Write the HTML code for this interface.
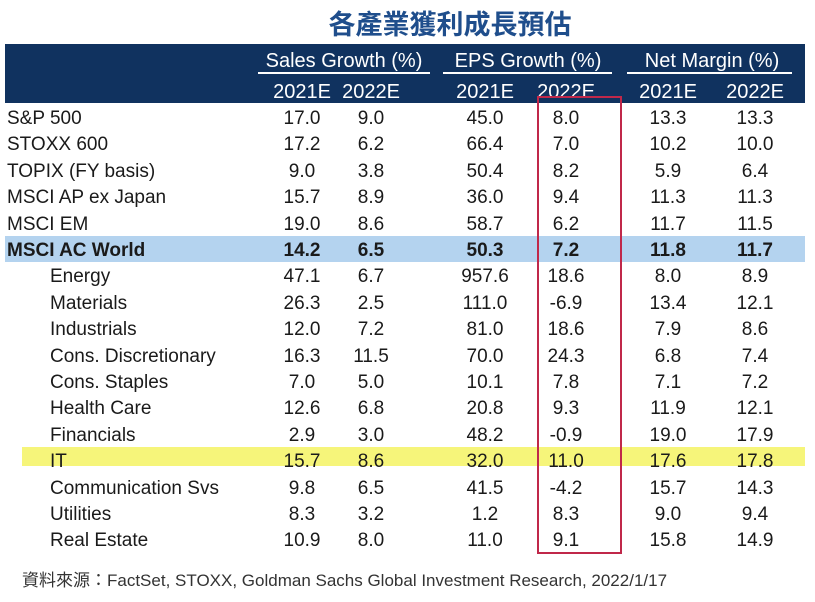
<!DOCTYPE html>
<html><head><meta charset="utf-8"><style>
body{margin:0;width:815px;height:602px;background:#fff;position:relative;overflow:hidden;font-family:"Liberation Sans","Noto Sans CJK TC",sans-serif}
.a{position:absolute;white-space:nowrap}
.c{transform:translateX(-50%)}
.h{color:#fff;font-size:20px}
.d{font-size:19px;color:#1a1a1a}
</style></head><body>
<div class="a" style="left:0;width:900px;text-align:center;top:3px;font-size:27px;font-weight:bold;color:#1f4e8c;font-family:'Liberation Sans','Noto Sans CJK TC',sans-serif">各產業獲利成長預估</div>
<div class="a" style="left:5px;top:44px;width:800px;height:59px;background:#10325f"></div>
<div class="a" style="left:5px;top:236px;width:800px;height:26px;background:#b4d3ef"></div>
<div class="a" style="left:22px;top:447px;width:783px;height:19px;background:#f6f57a"></div>
<div class="a" style="left:258px;top:72px;width:172px;height:2px;background:#fff"></div>
<div class="a" style="left:443px;top:72px;width:169px;height:2px;background:#fff"></div>
<div class="a" style="left:627px;top:72px;width:165px;height:2px;background:#fff"></div>
<div class="a h c" style="left:344px;top:50px">Sales Growth (%)</div>
<div class="a h c" style="left:528px;top:50px">EPS Growth (%)</div>
<div class="a h c" style="left:712px;top:50px">Net Margin (%)</div>
<div id="t"></div>
<div class="a" style="left:537px;top:96px;width:81px;height:454px;border:2px solid #c0284a"></div>
<div class="a" style="left:22px;top:566px;font-size:17px;color:#333">資料來源：FactSet, STOXX, Goldman Sachs Global Investment Research, 2022/1/17</div>
<script>
const years=["2021E","2022E","2021E","2022E","2021E","2022E"];
const labels=["S&P 500","STOXX 600","TOPIX (FY basis)","MSCI AP ex Japan","MSCI EM","MSCI AC World","Energy","Materials","Industrials","Cons. Discretionary","Cons. Staples","Health Care","Financials","IT","Communication Svs","Utilities","Real Estate"];
const sales21=["17.0","17.2","9.0","15.7","19.0","14.2","47.1","26.3","12.0","16.3","7.0","12.6","2.9","15.7","9.8","8.3","10.9"];
const sales22=["9.0","6.2","3.8","8.9","8.6","6.5","6.7","2.5","7.2","11.5","5.0","6.8","3.0","8.6","6.5","3.2","8.0"];
const eps21=["45.0","66.4","50.4","36.0","58.7","50.3","957.6","111.0","81.0","70.0","10.1","20.8","48.2","32.0","41.5","1.2","11.0"];
const eps22=["8.0","7.0","8.2","9.4","6.2","7.2","18.6","-6.9","18.6","24.3","7.8","9.3","-0.9","11.0","-4.2","8.3","9.1"];
const nm21=["13.3","10.2","5.9","11.3","11.7","11.8","8.0","13.4","7.9","6.8","7.1","11.9","19.0","17.6","15.7","9.0","15.8"];
const nm22=["13.3","10.0","6.4","11.3","11.5","11.7","8.9","12.1","8.6","7.4","7.2","12.1","17.9","17.8","14.3","9.4","14.9"];
const cols=[302,371,485,566,668,755];
const t=document.getElementById('t');
years.forEach((y,i)=>{const e=document.createElement('div');e.className='a h c';e.style.left=cols[i]+'px';e.style.top='81px';e.textContent=y;


t.appendChild(e);});
const series=[sales21,sales22,eps21,eps22,nm21,nm22];
labels.forEach((l,r)=>{const top=108+r*26.4;const bold=r===5;
const e=document.createElement('div');e.className='a d';e.style.left=(r>=6?50:7)+'px';e.style.top=top+'px';e.textContent=l;if(bold)e.style.fontWeight='bold';


t.appendChild(e);
series.forEach((s,i)=>{const v=document.createElement('div');v.className='a d c';v.style.left=cols[i]+'px';v.style.top=top+'px';v.textContent=s[r];if(bold)v.style.fontWeight='bold';


t.appendChild(v);});});
</script>
</body></html>
